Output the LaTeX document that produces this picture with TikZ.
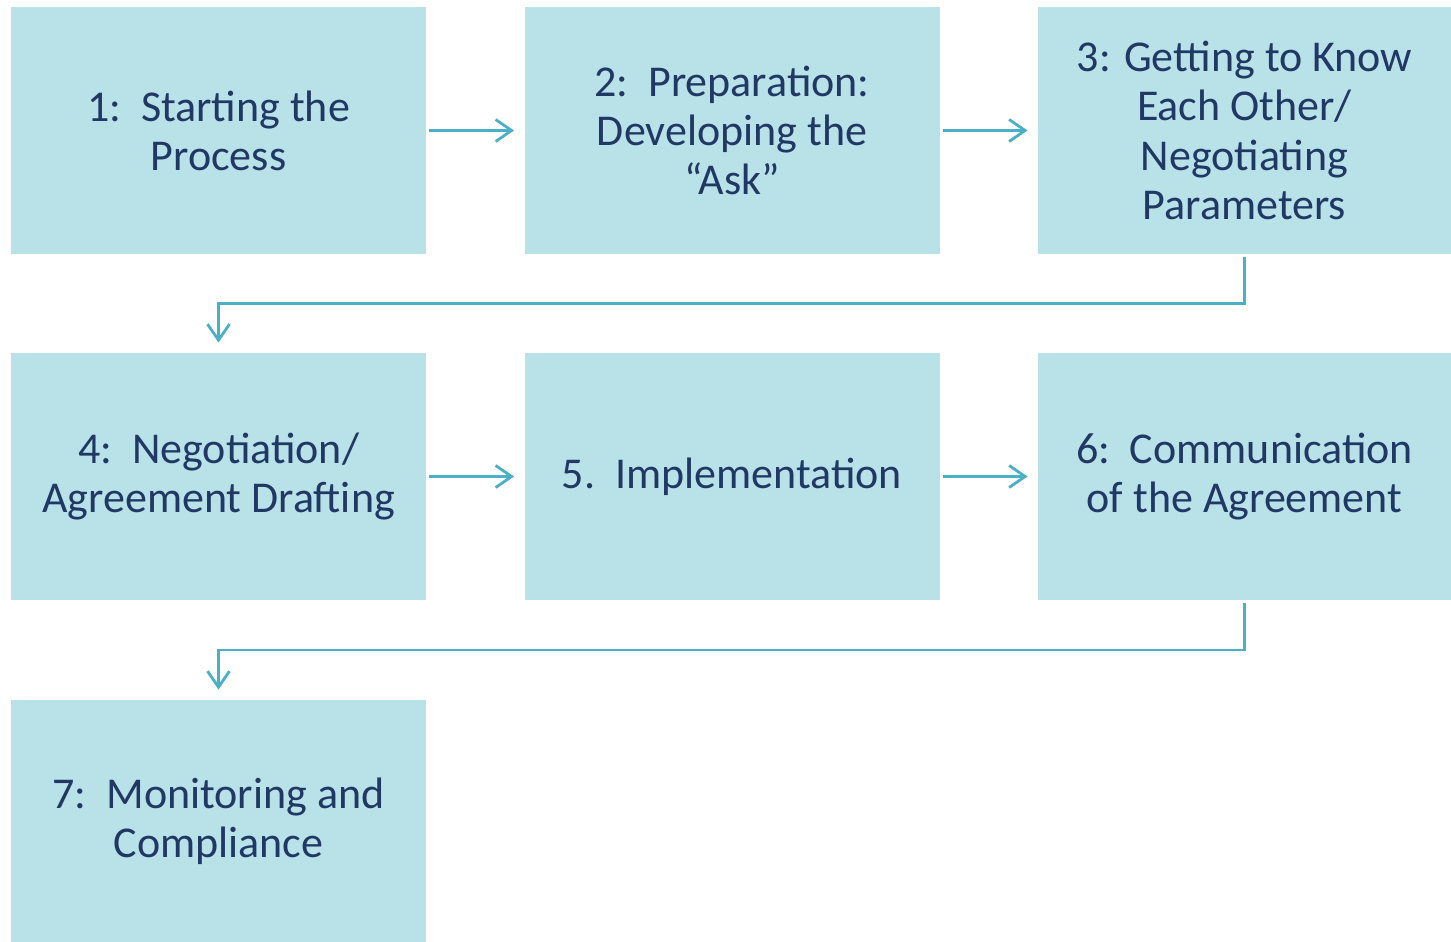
\documentclass[tikz,border=0pt]{standalone}
\usepackage{fontspec}
\setmainfont{Carlito}
\usetikzlibrary{arrows.meta,calc}
\definecolor{boxfill}{HTML}{B9E1E8}
\definecolor{linkcol}{HTML}{4BB0C6}
\definecolor{navytext}{HTML}{1F3864}
\begin{document}
\begin{tikzpicture}[x=0.5pt,y=-0.5pt,
  stagebox/.style={fill=boxfill, draw=none, inner sep=0pt,
    minimum width=207.5pt, minimum height=123.5pt,
    text=navytext, align=center,
    font=\fontsize{22pt}{24.6pt}\selectfont},
  link/.style={draw=linkcol, line width=1.4pt,
    -{Straight Barb[length=8pt,width=11pt,line width=1.4pt]},
    shorten <=1.5pt, shorten >=5pt}]
\useasboundingbox (0,0) rectangle (1451,942);
% first row
\node[stagebox] (b1) at (218.5,130.5) {1:\ \ Starting the\\Process};
\node[stagebox] (b2) at (732,130.5) {2:\ \ Preparation:\\Developing the\\“Ask”};
\node[stagebox, minimum width=206.5pt] (b3) at (1244.5,130.5) {3: Getting to Know\\Each Other/\\Negotiating\\Parameters};
% second row
\node[stagebox] (b4) at (218.5,476.5) {4:\ \ Negotiation/\\Agreement Drafting};
\node[stagebox] (b5) at (732,476.5) {5.\ \ Implementation};
\node[stagebox, minimum width=206.5pt] (b6) at (1244.5,476.5) {6:\ \ Communication\\of the Agreement};
% third row
\node[stagebox, minimum height=121pt] (b7) at (218.5,821) {7:\ \ Monitoring and\\Compliance};
% connectors
\draw[link] (b1) -- (b2);
\draw[link] (b2) -- (b3);
\draw[link] (b4) -- (b5);
\draw[link] (b5) -- (b6);
\coordinate (m1) at ($(b3.south)!0.5!(b4.north)$);
\coordinate (m2) at ($(b6.south)!0.5!(b7.north)$);
\draw[link] (b3.south) |- (m1) -| (b4.north);
\draw[link] (b6.south) |- (m2) -| (b7.north);
\end{tikzpicture}
\end{document}
